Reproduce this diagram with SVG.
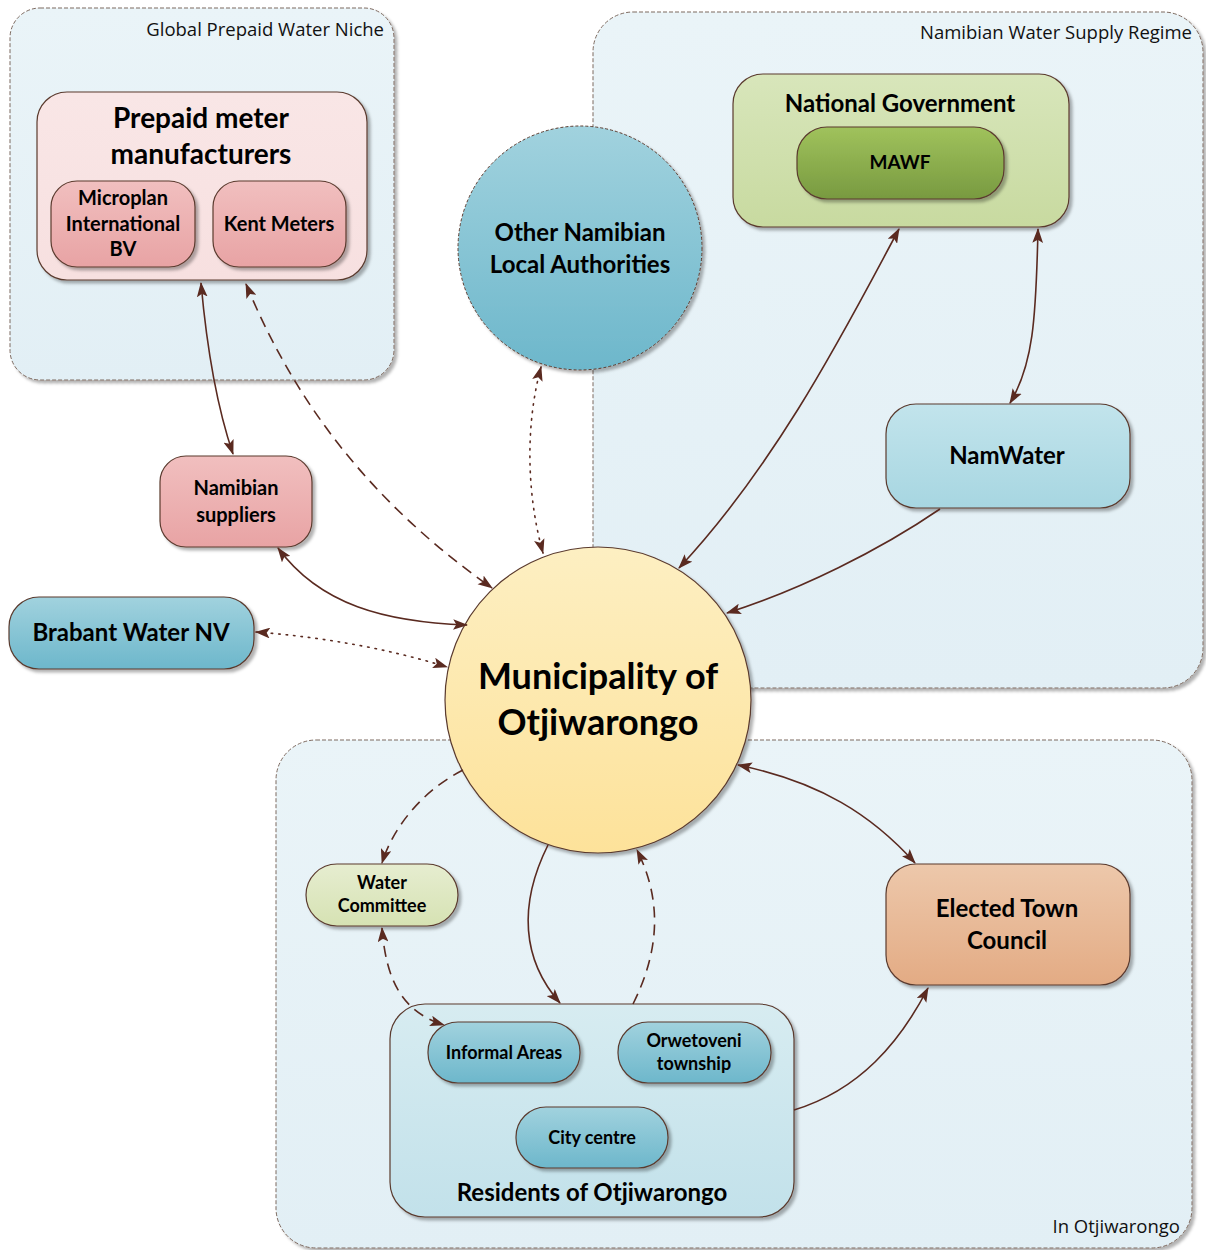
<svg xmlns="http://www.w3.org/2000/svg" width="1206" height="1250" viewBox="0 0 1206 1250">
<defs>
<style>
.grp{stroke:#7d6a60;stroke-width:1;stroke-dasharray:4,2;}
.node{stroke:#5a3a2e;stroke-width:1.2;}
.t{font-family:Lato,"Noto Sans",sans-serif;font-weight:bold;fill:#000;text-anchor:middle;}
.gl{font-family:"Open Sans","Noto Sans",sans-serif;font-size:18.5px;fill:#111;text-anchor:end;}
.c{fill:none;stroke:#5a2a20;stroke-width:1.6;}
.dash{stroke-dasharray:11,7;}
.dot{stroke-dasharray:1.5,6;stroke-linecap:round;}
</style>
<filter id="sh" x="-10%" y="-10%" width="125%" height="125%">
<feDropShadow dx="3" dy="3" stdDeviation="1.5" flood-color="#000" flood-opacity="0.3"/>
</filter>
<marker id="ah" viewBox="0 0 14 10" refX="13" refY="5" markerWidth="15" markerHeight="11" markerUnits="userSpaceOnUse" orient="auto-start-reverse">
<path d="M0,0 L14,5 L0,10 L3,5 Z" fill="#5a2a20"/>
</marker>
<linearGradient id="gGrp" x1="0" y1="0" x2="0" y2="1"><stop offset="0" stop-color="#eaf4f8"/><stop offset="1" stop-color="#e2eff5"/></linearGradient>
<linearGradient id="gPinkL" x1="0" y1="0" x2="0" y2="1"><stop offset="0" stop-color="#f9e6e6"/><stop offset="1" stop-color="#f7e0e0"/></linearGradient>
<linearGradient id="gPink" x1="0" y1="0" x2="0" y2="1"><stop offset="0" stop-color="#f1bfbf"/><stop offset="1" stop-color="#e8a3a4"/></linearGradient>
<linearGradient id="gBlue" x1="0" y1="0" x2="0" y2="1"><stop offset="0" stop-color="#a1d2de"/><stop offset="1" stop-color="#6db7cb"/></linearGradient>
<linearGradient id="gBlueL" x1="0" y1="0" x2="0" y2="1"><stop offset="0" stop-color="#c2e4ec"/><stop offset="1" stop-color="#a7d6e1"/></linearGradient>
<linearGradient id="gRes" x1="0" y1="0" x2="0" y2="1"><stop offset="0" stop-color="#d7ecf1"/><stop offset="1" stop-color="#c2e1ea"/></linearGradient>
<linearGradient id="gGreenL" x1="0" y1="0" x2="0" y2="1"><stop offset="0" stop-color="#d8e6bb"/><stop offset="1" stop-color="#c8daa0"/></linearGradient>
<linearGradient id="gGreen" x1="0" y1="0" x2="0" y2="1"><stop offset="0" stop-color="#a0c25c"/><stop offset="1" stop-color="#789a40"/></linearGradient>
<linearGradient id="gWC" x1="0" y1="0" x2="0" y2="1"><stop offset="0" stop-color="#e6edd0"/><stop offset="1" stop-color="#d6e2b3"/></linearGradient>
<linearGradient id="gOrange" x1="0" y1="0" x2="0" y2="1"><stop offset="0" stop-color="#edc8ab"/><stop offset="1" stop-color="#e3ab84"/></linearGradient>
<linearGradient id="gYellow" x1="0" y1="0" x2="0" y2="1"><stop offset="0" stop-color="#fdefc2"/><stop offset="1" stop-color="#fde29a"/></linearGradient>
</defs>
<rect width="1206" height="1250" fill="#fff"/>

<g id="group-global">
<rect class="grp" x="10" y="8" width="384" height="372" rx="30" fill="url(#gGrp)" filter="url(#sh)"/>
<text class="gl" x="384" y="36">Global Prepaid Water Niche</text>
</g>
<g id="group-regime">
<rect class="grp" x="593" y="12" width="610" height="676" rx="40" fill="url(#gGrp)" filter="url(#sh)"/>
<text class="gl" x="1192" y="39">Namibian Water Supply Regime</text>
</g>
<g id="group-otji">
<rect class="grp" x="276" y="740" width="916" height="508" rx="40" fill="url(#gGrp)" filter="url(#sh)"/>
<text class="gl" x="1180" y="1233">In Otjiwarongo</text>
</g>

<g id="node-prepaid">
<rect class="node" x="37" y="92" width="330" height="188" rx="30" fill="url(#gPinkL)" filter="url(#sh)"/>
<text class="t" x="201" y="128" font-size="28">Prepaid meter</text>
<text class="t" x="201" y="164" font-size="28">manufacturers</text>
</g>
<g id="node-microplan">
<rect class="node" x="51" y="181" width="144" height="86" rx="26" fill="url(#gPink)" filter="url(#sh)"/>
<text class="t" x="123" y="205" font-size="20">Microplan</text>
<text class="t" x="123" y="231" font-size="20">International</text>
<text class="t" x="123" y="256" font-size="20">BV</text>
</g>
<g id="node-kent">
<rect class="node" x="213" y="181" width="133" height="86" rx="26" fill="url(#gPink)" filter="url(#sh)"/>
<text class="t" x="279" y="231" font-size="20">Kent Meters</text>
</g>
<g id="node-otherla">
<circle cx="580" cy="248" r="122" fill="url(#gBlue)" stroke="#5a3a2e" stroke-width="1" stroke-dasharray="3,2" filter="url(#sh)"/>
<text class="t" x="580" y="241" font-size="24">Other Namibian</text>
<text class="t" x="580" y="273" font-size="24">Local Authorities</text>
</g>
<g id="node-natgov">
<rect class="node" x="733" y="74" width="336" height="153" rx="30" fill="url(#gGreenL)" filter="url(#sh)"/>
<text class="t" x="900" y="112" font-size="24">National Government</text>
</g>
<g id="node-mawf">
<rect class="node" x="797" y="127" width="207" height="72" rx="30" fill="url(#gGreen)" filter="url(#sh)"/>
<text class="t" x="900" y="169" font-size="19">MAWF</text>
</g>
<g id="node-namwater">
<rect class="node" x="886" y="404" width="244" height="104" rx="30" fill="url(#gBlueL)" filter="url(#sh)"/>
<text class="t" x="1007" y="464" font-size="24">NamWater</text>
</g>
<g id="node-suppliers">
<rect class="node" x="160" y="456" width="152" height="91" rx="26" fill="url(#gPink)" filter="url(#sh)"/>
<text class="t" x="236" y="495" font-size="20">Namibian</text>
<text class="t" x="236" y="522" font-size="20">suppliers</text>
</g>
<g id="node-brabant">
<rect class="node" x="9" y="597" width="245" height="72" rx="30" fill="url(#gBlue)" filter="url(#sh)"/>
<text class="t" x="131" y="641" font-size="24">Brabant Water NV</text>
</g>
<g id="node-municipality">
<circle class="node" cx="598" cy="700" r="153" fill="url(#gYellow)" filter="url(#sh)"/>
<text class="t" x="598" y="689" font-size="36">Municipality of</text>
<text class="t" x="598" y="735" font-size="36">Otjiwarongo</text>
</g>
<g id="node-watercommittee">
<rect class="node" x="306" y="864" width="152" height="62" rx="31" fill="url(#gWC)" filter="url(#sh)"/>
<text class="t" x="382" y="889" font-size="18">Water</text>
<text class="t" x="382" y="912" font-size="18">Committee</text>
</g>
<g id="node-council">
<rect class="node" x="886" y="864" width="244" height="121" rx="30" fill="url(#gOrange)" filter="url(#sh)"/>
<text class="t" x="1007" y="917" font-size="24">Elected Town</text>
<text class="t" x="1007" y="949" font-size="24">Council</text>
</g>
<g id="node-residents">
<rect class="node" x="390" y="1004" width="404" height="213" rx="35" fill="url(#gRes)" filter="url(#sh)"/>
<text class="t" x="592" y="1201" font-size="24">Residents of Otjiwarongo</text>
</g>
<g id="node-informal">
<rect class="node" x="428" y="1022" width="152" height="61" rx="30" fill="url(#gBlue)" filter="url(#sh)"/>
<text class="t" x="504" y="1059" font-size="18">Informal Areas</text>
</g>
<g id="node-orwetoveni">
<rect class="node" x="618" y="1022" width="153" height="61" rx="30" fill="url(#gBlue)" filter="url(#sh)"/>
<text class="t" x="694" y="1047" font-size="18">Orwetoveni</text>
<text class="t" x="694" y="1070" font-size="18">township</text>
</g>
<g id="node-citycentre">
<rect class="node" x="516" y="1107" width="152" height="61" rx="30" fill="url(#gBlue)" filter="url(#sh)"/>
<text class="t" x="592" y="1144" font-size="18">City centre</text>
</g>

<g id="connectors">
<path class="c" d="M201,283 C207,350 218,410 233,454" marker-start="url(#ah)" marker-end="url(#ah)"/>
<path class="c dash" d="M246,284 C290,390 360,495 492,588" marker-start="url(#ah)" marker-end="url(#ah)"/>
<path class="c" d="M278,548 C320,605 385,622 467,625" marker-start="url(#ah)" marker-end="url(#ah)"/>
<path class="c dot" d="M256,632 Q360,640 447,667" marker-start="url(#ah)" marker-end="url(#ah)"/>
<path class="c dot" d="M541,367 C524,430 528,500 543,553" marker-start="url(#ah)" marker-end="url(#ah)"/>
<path class="c" d="M899,229 C850,320 780,460 679,568" marker-start="url(#ah)" marker-end="url(#ah)"/>
<path class="c" d="M1038,229 C1036,320 1033,365 1010,403" marker-start="url(#ah)" marker-end="url(#ah)"/>
<path class="c" d="M940,509 C880,550 800,590 727,613" marker-end="url(#ah)"/>
<path class="c dash" d="M463,770 C420,792 392,830 382,863" marker-end="url(#ah)"/>
<path class="c dash" d="M382,928 C386,980 402,1012 444,1025" marker-start="url(#ah)" marker-end="url(#ah)"/>
<path class="c" d="M548,845 C518,905 522,960 560,1003" marker-end="url(#ah)"/>
<path class="c dash" d="M633,1004 C660,950 662,900 637,850" marker-end="url(#ah)"/>
<path class="c" d="M738,765 C820,782 872,815 915,863" marker-start="url(#ah)" marker-end="url(#ah)"/>
<path class="c" d="M794,1110 C860,1090 900,1042 928,988" marker-end="url(#ah)"/>
</g>
</svg>
